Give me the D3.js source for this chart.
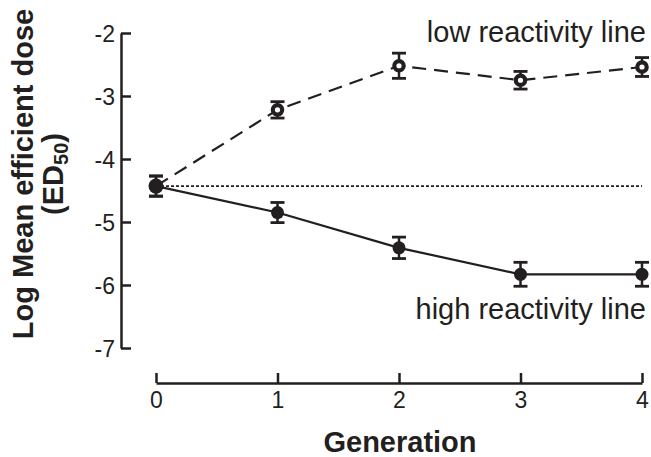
<!DOCTYPE html>
<html>
<head>
<meta charset="utf-8">
<script src="https://cdn.jsdelivr.net/npm/d3@7"></script>
<style>
  html, body { margin: 0; padding: 0; background: #fff; }
  svg { display: block; }
  text { font-family: "Liberation Sans", Arial, Helvetica, sans-serif; fill: #231f20; }
</style>
</head>
<body>
<svg id="chart" width="651" height="457"></svg>
<script>
const generations = [0, 1, 2, 3, 4];
const xTickLabels = ["0", "1", "2", "3", "4"];
const yTickValues = [-2, -3, -4, -5, -6, -7];
const lowValues = [-4.43, -3.22, -2.52, -2.75, -2.54];
const lowErrors = [0.16, 0.13, 0.2, 0.14, 0.15];
const highValues = [-4.43, -4.85, -5.41, -5.83, -5.83];
const highErrors = [0.16, 0.16, 0.17, 0.19, 0.19];
const baselineValue = -4.43;
const lowLabel = "low reactivity line";
const highLabel = "high reactivity line";
const xTitle = "Generation";
const yTitleLine1 = "Log Mean efficient dose";

const ink = "#231f20";
const svg = d3.select("#chart");

const x = d3.scaleLinear().domain([0, 4]).range([156, 642]);
const y = d3.scaleLinear().domain([-2, -7]).range([33, 348]);

// Y axis
const yAxis = d3.axisLeft(y).tickValues(yTickValues).tickFormat(d => d)
  .tickSizeInner(-10).tickSizeOuter(0).tickPadding(6);
const gy = svg.append("g").attr("transform", "translate(121,0)").call(yAxis);
gy.select(".domain").attr("stroke", ink).attr("stroke-width", 2.5);
gy.selectAll(".tick line").attr("stroke", ink).attr("stroke-width", 2.5);
gy.selectAll(".tick text").attr("font-size", 23).attr("fill", ink)
  .attr("font-family", "Liberation Sans, Arial, sans-serif").attr("dy", "0.38em");

// X axis
const xAxis = d3.axisBottom(x).tickValues(generations).tickFormat((d, i) => xTickLabels[i])
  .tickSizeInner(-10).tickSizeOuter(0).tickPadding(9);
const gx = svg.append("g").attr("transform", "translate(0,383)").call(xAxis);
gx.select(".domain").attr("stroke", ink).attr("stroke-width", 2.5);
gx.selectAll(".tick line").attr("stroke", ink).attr("stroke-width", 2.5);
gx.selectAll(".tick text").attr("font-size", 23).attr("fill", ink)
  .attr("font-family", "Liberation Sans, Arial, sans-serif");

// Baseline dotted reference
svg.append("line")
  .attr("x1", x(0)).attr("x2", x(4))
  .attr("y1", y(baselineValue)).attr("y2", y(baselineValue))
  .attr("stroke", ink).attr("stroke-width", 1.6).attr("stroke-dasharray", "3,2");

const line = d3.line().x((d, i) => x(generations[i])).y(d => y(d));

svg.append("path").datum(lowValues).attr("d", line)
  .attr("fill", "none").attr("stroke", ink).attr("stroke-width", 2.2)
  .attr("stroke-dasharray", "14,8");
svg.append("path").datum(highValues).attr("d", line)
  .attr("fill", "none").attr("stroke", ink).attr("stroke-width", 2.2);

function errorBars(vals, errs) {
  const g = svg.append("g");
  vals.forEach((v, i) => {
    const cx = x(generations[i]);
    const y1 = y(v + errs[i]), y2 = y(v - errs[i]);
    g.append("line").attr("x1", cx).attr("x2", cx).attr("y1", y1).attr("y2", y2)
      .attr("stroke", ink).attr("stroke-width", 2.5);
    [y1, y2].forEach(yy => g.append("line").attr("x1", cx - 7).attr("x2", cx + 7)
      .attr("y1", yy).attr("y2", yy).attr("stroke", ink).attr("stroke-width", 2.8));
  });
}
errorBars(highValues, highErrors);
errorBars(lowValues, lowErrors);

// High: filled circles
svg.append("g").selectAll("circle").data(highValues).join("circle")
  .attr("cx", (d, i) => x(generations[i])).attr("cy", d => y(d))
  .attr("r", 6.5).attr("fill", ink);
// Low: open circles (gen 0 shared with filled point)
svg.append("g").selectAll("circle").data(lowValues.slice(1)).join("circle")
  .attr("cx", (d, i) => x(generations[i + 1])).attr("cy", d => y(d))
  .attr("r", 4.7).attr("fill", "#fff").attr("stroke", ink).attr("stroke-width", 4.2);
// Gen 0 blob
svg.append("circle").attr("cx", x(0)).attr("cy", y(lowValues[0]))
  .attr("r", 7.5).attr("fill", ink);

// Series labels
svg.append("text").attr("x", 646).attr("y", 42).attr("text-anchor", "end")
  .attr("font-size", 29).text(lowLabel);
svg.append("text").attr("x", 646).attr("y", 319).attr("text-anchor", "end")
  .attr("font-size", 29).text(highLabel);

// Axis titles
svg.append("text").attr("x", 400).attr("y", 452).attr("text-anchor", "middle")
  .attr("font-size", 29).attr("font-weight", "bold").text(xTitle);

const yt = svg.append("g").attr("transform", "translate(33,174) rotate(-90)");
yt.append("text").attr("x", 0).attr("y", 0).attr("text-anchor", "middle")
  .attr("font-size", 29).attr("font-weight", "bold").text(yTitleLine1);
const t2 = yt.append("text").attr("x", 0).attr("y", 30).attr("text-anchor", "middle")
  .attr("font-size", 29).attr("font-weight", "bold");
t2.append("tspan").text("(ED");
t2.append("tspan").attr("font-size", 20).attr("dy", 5).text("50");
t2.append("tspan").attr("dy", -5).text(")");
</script>
</body>
</html>
